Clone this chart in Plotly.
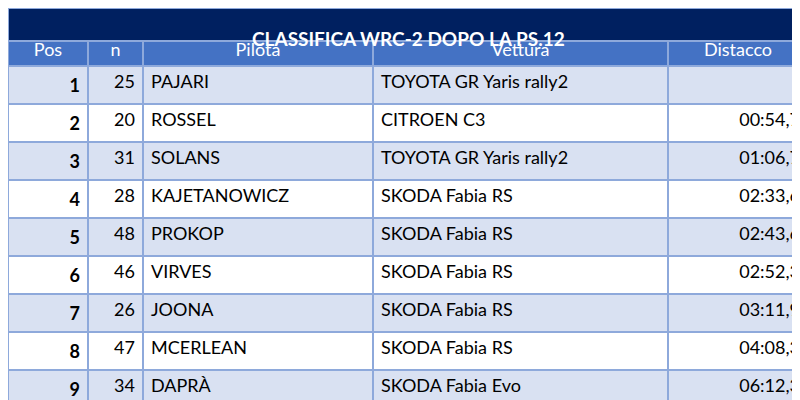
import plotly.graph_objects as go

title = "CLASSIFICA WRC-2 DOPO LA PS.12"
headers = ["Pos", "n", "Pilota", "Vettura", "Distacco"]
pos = [1, 2, 3, 4, 5, 6, 7, 8, 9, 10]
num = [25, 20, 31, 28, 48, 46, 26, 47, 34, 37]
drivers = ["PAJARI", "ROSSEL", "SOLANS", "KAJETANOWICZ", "PROKOP", "VIRVES",
           "JOONA", "MCERLEAN", "DAPRÀ", "KREMER"]
cars = ["TOYOTA GR Yaris rally2", "CITROEN C3", "TOYOTA GR Yaris rally2",
        "SKODA Fabia RS", "SKODA Fabia RS", "SKODA Fabia RS", "SKODA Fabia RS",
        "SKODA Fabia RS", "SKODA Fabia Evo", "SKODA Fabia RS"]
gaps = ["", "00:54,7", "01:06,7", "02:33,6", "02:43,6", "02:52,3",
        "03:11,9", "04:08,3", "06:12,3", "11:17,0"]

FONT = "Lato"
LINE = "#8EA9DB"
row_fill = ["#D9E1F2" if i % 2 == 0 else "#FFFFFF" for i in range(len(pos))]

fig = go.Figure()

fig.add_trace(go.Table(
    domain=dict(x=[0, 1], y=[0, 1 - 26 / 400]),
    columnwidth=[80, 55, 230, 295, 140],
    header=dict(
        values=headers,
        fill_color="#4472C4",
        line=dict(color=LINE, width=2),
        font=dict(family=FONT, size=18, color="white"),
        align="center",
        height=32,
    ),
    cells=dict(
        values=[[f"<b>{p}</b>" for p in pos], [str(n) for n in num],
                drivers, cars, gaps],
        fill=dict(color=[row_fill] * 5),
        line=dict(color=LINE, width=2),
        font=dict(family=FONT, size=18, color="black"),
        align=["right", "right", "left", "left", "right"],
        height=33,
    ),
))

fig.add_shape(type="rect", xref="paper", yref="paper",
              x0=0, x1=1, y0=1 - 33 / 400, y1=1,
              fillcolor="#002060", line=dict(color=LINE, width=2), layer="above")
fig.add_annotation(text=f"<b>{title}</b>", xref="paper", yref="paper",
                   x=0.5, y=1 - 16.5 / 400, showarrow=False,
                   font=dict(family=FONT, size=19, color="white"))

fig.update_layout(
    width=800,
    height=400,
    margin=dict(l=0, r=0, t=0, b=0),
    paper_bgcolor="white",
)

fig.write_html("out.html")
